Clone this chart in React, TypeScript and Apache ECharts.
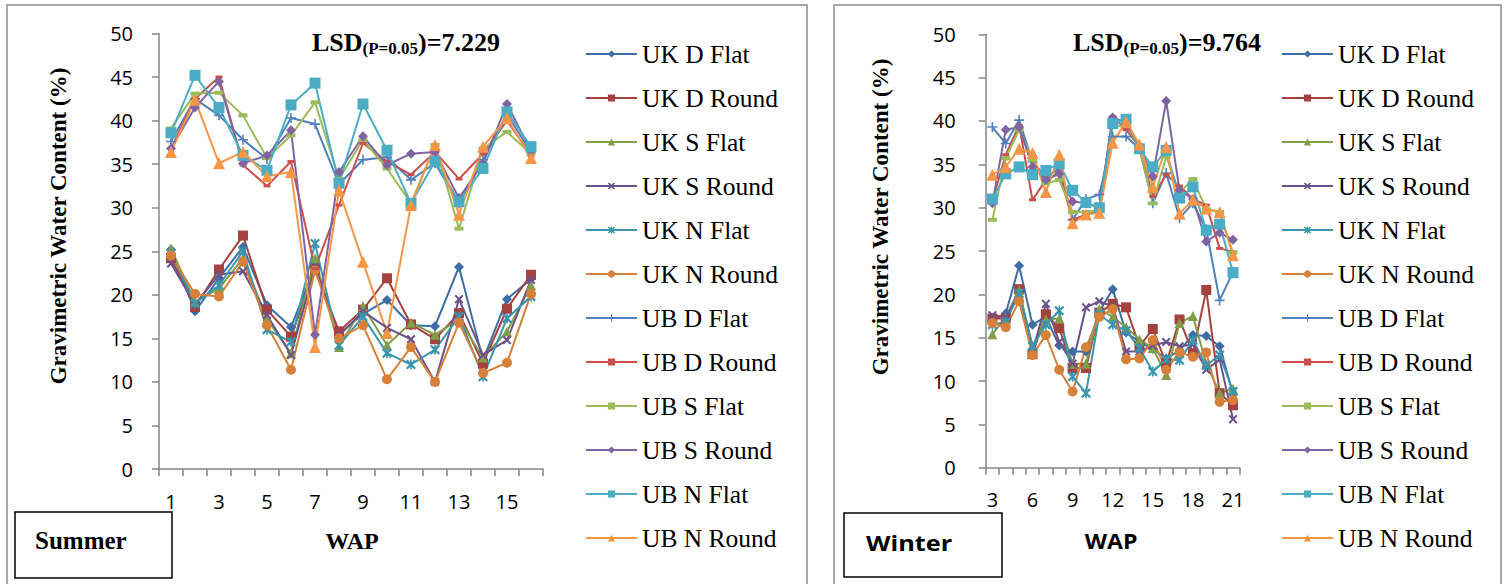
import React, { useEffect, useRef } from "react";
import * as echarts from "echarts";

// Treatment names (legend order)
const treatments = [
  "UK D Flat", "UK D Round", "UK S Flat", "UK S Round", "UK N Flat", "UK N Round",
  "UB D Flat", "UB D Round", "UB S Flat", "UB S Round", "UB N Flat", "UB N Round",
];

// Weeks after planting
const summerWap = ["1", "2", "3", "4", "5", "6", "7", "8", "9", "10", "11", "12", "13", "14", "15", "16"];
const winterWap = ["3", "4", "5", "6", "7", "8", "9", "10", "11", "12", "13", "14", "15", "16", "17", "18", "19", "20", "21"];

// Summer gravimetric water content (%)
const sUkDFlat = [25.2, 18.1, 21.9, 25.5, 18.8, 16.3, 23.2, 15.5, 17.8, 19.4, 16.5, 16.4, 23.2, 12.5, 19.5, 21.8];
const sUkDRound = [24.2, 18.6, 22.9, 26.8, 18.3, 15.2, 22.9, 15.8, 18.3, 21.9, 16.6, 14.9, 17.9, 12.1, 18.4, 22.3];
const sUkSFlat = [25.3, 19.2, 20.7, 24.2, 17.2, 13.3, 24.2, 14.0, 18.7, 14.2, 16.8, 15.4, 17.2, 12.8, 15.8, 21.1];
const sUkSRound = [23.6, 18.9, 22.3, 22.7, 17.7, 13.1, 23.2, 15.3, 18.1, 16.2, 14.9, 10.0, 19.5, 13.1, 14.8, 21.7];
const sUkNFlat = [24.7, 19.0, 21.1, 25.0, 16.0, 14.6, 25.9, 14.2, 17.5, 13.3, 12.0, 13.7, 17.5, 10.6, 17.3, 19.8];
const sUkNRound = [24.5, 20.1, 19.8, 23.8, 16.5, 11.4, 22.8, 15.0, 16.5, 10.3, 14.0, 10.0, 16.8, 11.0, 12.2, 20.1];
const sUbDFlat = [37.6, 42.5, 40.6, 37.8, 35.6, 40.3, 39.6, 32.7, 35.5, 35.8, 33.2, 35.1, 30.5, 35.5, 40.7, 36.4];
const sUbDRound = [36.8, 42.5, 45.0, 34.9, 32.5, 35.3, 23.0, 30.3, 37.4, 35.3, 33.8, 36.4, 33.3, 36.2, 40.0, 36.0];
const sUbSFlat = [39.1, 43.1, 43.2, 40.6, 35.7, 38.3, 42.1, 33.3, 37.8, 34.5, 30.5, 37.2, 27.6, 36.8, 38.7, 36.2];
const sUbSRound = [36.8, 41.5, 44.5, 35.1, 36.0, 38.9, 15.4, 34.1, 38.2, 34.9, 36.2, 36.4, 31.1, 35.1, 41.9, 36.5];
const sUbNFlat = [38.6, 45.2, 41.5, 36.0, 34.3, 41.8, 44.3, 32.8, 41.9, 36.6, 30.5, 35.3, 30.7, 34.5, 41.0, 37.0];
const sUbNRound = [36.4, 42.4, 35.1, 36.4, 33.6, 34.1, 14.0, 32.0, 23.8, 15.6, 30.3, 37.2, 29.2, 37.0, 40.3, 35.7];

// Winter gravimetric water content (%)
const wUkDFlat = [17.0, 17.8, 23.3, 16.5, 17.4, 14.1, 13.4, 13.4, 18.0, 20.6, 15.6, 14.5, 13.7, 12.6, 13.5, 15.3, 15.2, 14.0, 8.5];
const wUkDRound = [17.2, 17.2, 20.6, 13.1, 17.7, 16.1, 11.5, 11.5, 17.9, 18.9, 18.5, 14.0, 16.0, 12.0, 17.1, 13.2, 20.5, 8.6, 7.2];
const wUkSFlat = [15.4, 17.3, 20.5, 14.0, 17.1, 17.2, 12.0, 12.0, 18.3, 17.4, 16.2, 14.8, 13.8, 10.7, 16.7, 17.5, 12.0, 8.6, 9.1];
const wUkSRound = [17.6, 17.4, 20.0, 13.4, 18.9, 14.5, 12.0, 18.5, 19.2, 18.6, 13.4, 13.4, 14.1, 14.5, 14.0, 14.2, 11.3, 12.5, 5.6];
const wUkNFlat = [16.5, 16.8, 20.1, 14.0, 16.5, 18.1, 10.5, 8.6, 17.7, 16.5, 15.8, 13.8, 11.1, 12.5, 12.4, 14.7, 11.8, 13.0, 8.8];
const wUkNRound = [16.7, 16.2, 19.2, 13.0, 15.3, 11.3, 8.8, 13.9, 17.4, 18.3, 12.5, 12.6, 14.7, 11.3, 13.3, 12.8, 13.3, 7.6, 7.8];
const wUbDFlat = [39.3, 37.4, 40.1, 35.3, 33.5, 34.5, 28.6, 31.0, 31.5, 38.2, 38.2, 36.8, 30.5, 34.0, 28.8, 30.5, 27.5, 19.3, 22.6];
const wUbDRound = [30.8, 36.1, 39.5, 30.9, 33.2, 34.0, 28.6, 29.2, 29.8, 40.5, 39.0, 37.0, 31.3, 33.8, 32.5, 31.0, 30.3, 25.3, 24.9];
const wUbSFlat = [28.6, 35.7, 39.0, 35.5, 32.8, 33.2, 29.5, 29.5, 29.7, 39.4, 39.5, 37.0, 30.5, 35.9, 31.7, 33.3, 29.8, 29.5, 24.8];
const wUbSRound = [30.5, 39.0, 39.3, 34.7, 33.2, 33.9, 30.7, 30.5, 30.0, 40.4, 39.8, 37.0, 33.6, 42.3, 32.0, 31.0, 26.1, 27.1, 26.3];
const wUbNFlat = [31.0, 33.9, 34.7, 33.8, 34.3, 35.1, 32.0, 30.6, 30.0, 39.7, 40.2, 36.8, 34.7, 36.6, 31.1, 32.4, 27.4, 28.1, 22.5];
const wUbNRound = [33.8, 34.7, 36.8, 36.3, 31.8, 36.1, 28.2, 29.2, 29.4, 37.5, 39.9, 37.3, 32.4, 37.0, 29.3, 30.9, 29.9, 29.5, 24.5];

const summerData = [sUkDFlat, sUkDRound, sUkSFlat, sUkSRound, sUkNFlat, sUkNRound, sUbDFlat, sUbDRound, sUbSFlat, sUbSRound, sUbNFlat, sUbNRound];
const winterData = [wUkDFlat, wUkDRound, wUkSFlat, wUkSRound, wUkNFlat, wUkNRound, wUbDFlat, wUbDRound, wUbSFlat, wUbSRound, wUbNFlat, wUbNRound];

const colors = [
  "#3E6CA4", "#A5413E", "#809D49", "#6B5389", "#3B96AE", "#D6803A",
  "#4F81BD", "#C9504C", "#9BBB59", "#8064A2", "#4BACC6", "#F79646",
];

const crossPath = "path://M0,1.6 L1.6,0 L5,3.4 L8.4,0 L10,1.6 L6.6,5 L10,8.4 L8.4,10 L5,6.6 L1.6,10 L0,8.4 L3.4,5 Z";
const starPath = "path://M0,1.6 L1.6,0 L5,3.4 L8.4,0 L10,1.6 L6.6,5 L10,8.4 L8.4,10 L5,6.6 L1.6,10 L0,8.4 L3.4,5 Z M4.2,0 L5.8,0 L5.8,10 L4.2,10 Z";
const plusPath = "path://M4.2,0 L5.8,0 L5.8,4.2 L10,4.2 L10,5.8 L5.8,5.8 L5.8,10 L4.2,10 L4.2,5.8 L0,5.8 L0,4.2 L4.2,4.2 Z";

const symbols = ["diamond", "rect", "triangle", crossPath, starPath, "circle", plusPath, "rect", "rect", "diamond", "rect", "triangle"];
const symbolSizes: any[] = [10, 10, 10, 9, 10, 10, 10, [7, 3], [9, 4], 10, 11, 12];

const serif = "'Liberation Serif', 'Times New Roman', serif";
const sans = "'Open Sans', 'DejaVu Sans', sans-serif";

function buildSeries(data: number[][], gridIndex: number) {
  return treatments.map((name, i) => ({
    name,
    type: "line",
    xAxisIndex: gridIndex,
    yAxisIndex: gridIndex,
    data: data[i],
    symbol: symbols[i],
    symbolSize: symbolSizes[i],
    showAllSymbol: true,
    lineStyle: { color: colors[i], width: 2 },
    itemStyle: { color: colors[i] },
  }));
}

function xAxis(gridIndex: number, cats: string[], labelInterval: number) {
  return {
    type: "category",
    gridIndex,
    data: cats,
    boundaryGap: true,
    axisLine: { lineStyle: { color: "#868686", width: 1.5 } },
    axisTick: { show: true, interval: 0, length: 7, lineStyle: { color: "#868686", width: 1.5 } },
    axisLabel: { interval: labelInterval, margin: 22, fontFamily: sans, fontSize: 20, color: "#000" },
    splitLine: { show: false },
  };
}

function yAxis(gridIndex: number, margin: number) {
  return {
    type: "value",
    gridIndex,
    min: 0,
    max: 50,
    interval: 5,
    axisLine: { show: true, lineStyle: { color: "#868686", width: 1.5 } },
    axisTick: { show: true, length: 7, lineStyle: { color: "#868686", width: 1.5 } },
    axisLabel: { margin, fontFamily: sans, fontSize: 20, color: "#000" },
    splitLine: { show: false },
  };
}

function legend(left: number) {
  return {
    orient: "vertical",
    left,
    top: 41,
    padding: 0,
    itemWidth: 51,
    itemHeight: 9,
    itemGap: 18,
    data: treatments,
    textStyle: { fontFamily: serif, fontSize: 25.5, color: "#000", lineHeight: 24 },
  };
}

function lsdText(x: number, value: string) {
  return {
    type: "text",
    x,
    y: 29,
    style: {
      text: `{a|LSD}{b|(P=0.05}{a|)=${value}}`,
      rich: {
        a: { fontFamily: serif, fontWeight: "bold", fontSize: 26, lineHeight: 28, verticalAlign: "top", fill: "#000" },
        b: { fontFamily: serif, fontWeight: "bold", fontSize: 17, lineHeight: 18, padding: [10, 0, 0, 0], verticalAlign: "bottom", fill: "#000" },
      },
    },
  };
}

export default function App() {
  const ref = useRef<HTMLDivElement>(null);

  useEffect(() => {
    if (!ref.current) return;
    const chart = echarts.init(ref.current, undefined, { renderer: "svg" });
    chart.setOption({
      animation: false,
      backgroundColor: "#fff",
      grid: [
        { left: 159, top: 33.5, width: 384, height: 435.5 },
        { left: 985.7, top: 34.3, width: 254, height: 433.4 },
      ],
      xAxis: [xAxis(0, summerWap, 1), xAxis(1, winterWap, 2)],
      yAxis: [yAxis(0, 26), yAxis(1, 30)],
      legend: [legend(585), legend(1281)],
      series: [...buildSeries(summerData, 0), ...buildSeries(winterData, 1)],
      graphic: [
        { type: "rect", shape: { x: 7, y: 5, width: 800, height: 620 }, style: { fill: "none", stroke: "#8c8c8c", lineWidth: 1.5 }, z: -1 },
        { type: "rect", shape: { x: 834, y: 5, width: 667, height: 620 }, style: { fill: "none", stroke: "#8c8c8c", lineWidth: 1.5 }, z: -1 },
        { type: "rect", shape: { x: 15, y: 512, width: 157, height: 66 }, style: { fill: "#fff", stroke: "#000", lineWidth: 1.5 } },
        { type: "rect", shape: { x: 844, y: 513, width: 158, height: 64 }, style: { fill: "#fff", stroke: "#000", lineWidth: 1.5 } },
        { type: "text", x: 35, y: 540, style: { text: "Summer", font: `bold 25px ${serif}`, fill: "#000", align: "left", verticalAlign: "middle", textAlign: "left", textVerticalAlign: "middle" }, z: 10 },
        { type: "text", x: 866, y: 543, scaleX: 1.15, style: { text: "Winter", font: `bold 22px ${sans}`, fill: "#000", align: "left", verticalAlign: "middle", textAlign: "left", textVerticalAlign: "middle" }, z: 10 },
        { type: "text", x: 352, y: 541, style: { text: "WAP", font: `bold 24px ${serif}`, fill: "#000", align: "center", verticalAlign: "middle", textAlign: "center", textVerticalAlign: "middle" } },
        { type: "text", x: 1111, y: 540, scaleX: 1.1, style: { text: "WAP", font: `bold 21px ${sans}`, fill: "#000", align: "center", verticalAlign: "middle", textAlign: "center", textVerticalAlign: "middle" } },
        { type: "text", x: 58, y: 226, rotation: Math.PI / 2, style: { text: "Gravimetric Water Content (%)", font: `bold 23px ${serif}`, fill: "#000", align: "center", verticalAlign: "middle", textAlign: "center", textVerticalAlign: "middle" } },
        { type: "text", x: 880, y: 217, rotation: Math.PI / 2, style: { text: "Gravimetric Water Content (%)", font: `bold 23px ${serif}`, fill: "#000", align: "center", verticalAlign: "middle", textAlign: "center", textVerticalAlign: "middle" } },
        lsdText(312, "7.229"),
        lsdText(1073, "9.764"),
      ],
    });
    return () => chart.dispose();
  }, []);

  return <div ref={ref} style={{ position: "absolute", left: 0, top: 0, width: 1509, height: 584 }} />;
}
